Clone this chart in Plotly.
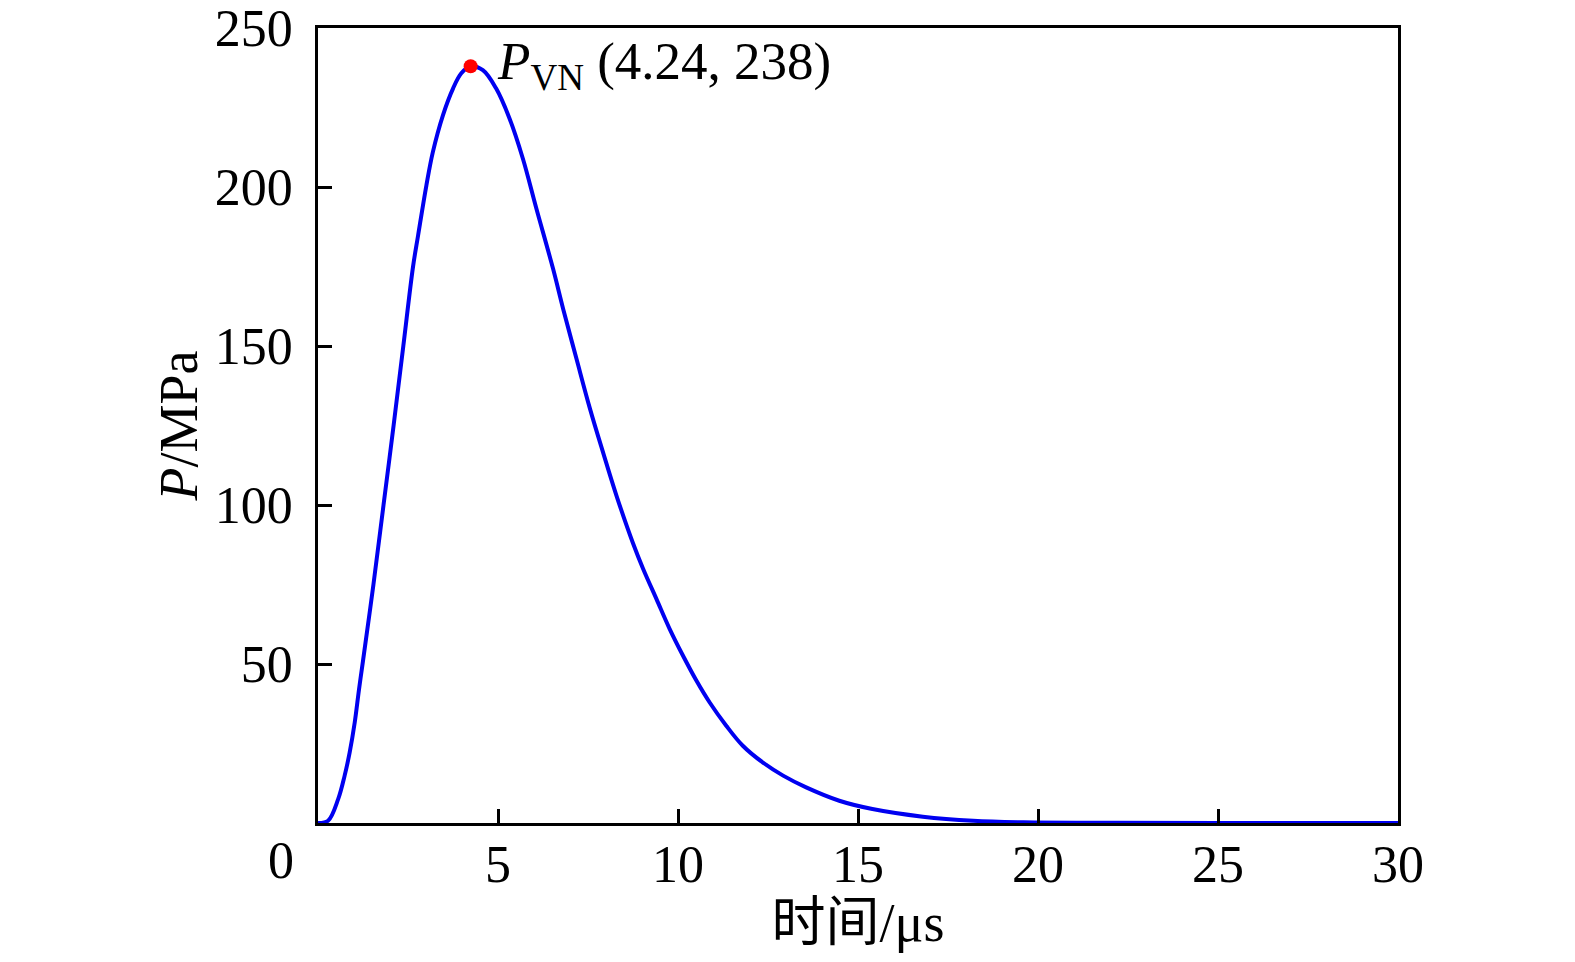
import plotly.graph_objects as go

# Time (μs) and pressure (MPa)
time_us = [0, 0.28, 0.56, 0.74, 0.88, 1.02, 1.14, 1.25, 1.54, 1.82, 2.10, 2.37, 2.64,
           2.78, 3.01, 3.19, 3.47, 3.75, 3.98, 4.24, 4.58, 4.95, 5.32, 5.69, 6.06, 6.53,
           6.81, 7.18, 7.55, 7.92, 8.29, 8.75, 9.03, 9.4, 9.77, 10.14, 10.51, 10.88,
           11.34, 11.8, 12.36, 12.92, 13.56, 14.48, 15.4, 16.8, 18.2, 19.6, 22, 25, 30]
pressure_mpa = [0, 0.7, 7.5, 14.9, 22.2, 31.6, 42.1, 51, 75, 100, 125, 150, 175,
                184.8, 200.5, 211, 222.6, 231, 235.8, 238, 236.8, 231, 221.6, 209, 193.5, 174.3,
                161.7, 146, 130.5, 116.5, 103, 88, 80, 70.5, 61, 52.6, 44.8, 37.9,
                30.6, 24.3, 19, 14.9, 11.2, 7.0, 4.4, 2.0, 0.7, 0.2, 0.05, 0.02, 0.0]

peak_t = [4.24]
peak_p = [238]
peak_label = "<i>P</i><sub>VN</sub> (4.24, 238)"

x_ticks = [5, 10, 15, 20, 25, 30]
y_ticks = [50, 100, 150, 200, 250]

FONT = "Liberation Serif, Times New Roman, Noto Sans CJK SC, serif"
TICK_FONT = dict(family=FONT, size=52, color="black")
TITLE_FONT = dict(family=FONT, size=54, color="black")

fig = go.Figure()
fig.add_trace(go.Scatter(x=time_us, y=pressure_mpa, mode="lines",
                         line=dict(color="#0000F0", width=4, shape="spline", smoothing=1.0),
                         showlegend=False))
fig.add_trace(go.Scatter(x=peak_t, y=peak_p, mode="markers",
                         marker=dict(color="#FF0000", size=14), showlegend=False))

fig.add_annotation(x=peak_t[0], y=peak_p[0], text=peak_label, showarrow=False,
                   xanchor="left", yanchor="middle", xshift=24, yshift=1,
                   font=dict(family=FONT, size=53, color="black"))
fig.add_annotation(xref="paper", yref="paper", x=-0.034, y=-0.047, text="0",
                   showarrow=False, xanchor="center", yanchor="middle",
                   font=TICK_FONT)

fig.update_xaxes(range=[0, 30], tickvals=x_ticks, ticks="inside", ticklen=14,
                 tickwidth=2.5, tickcolor="black", showline=True, linecolor="black",
                 linewidth=2.5, mirror=True, showgrid=False, zeroline=False,
                 tickfont=TICK_FONT, ticklabelstandoff=-6, ticklabeloverflow="allow",
                 title=dict(text="时间/μs", font=TITLE_FONT, standoff=8))
fig.update_yaxes(range=[0, 250.05], tickvals=y_ticks, ticks="inside", ticklen=14,
                 tickwidth=2.5, tickcolor="black", showline=True, linecolor="black",
                 linewidth=2.5, mirror=True, showgrid=False, zeroline=False,
                 tickfont=TICK_FONT, ticklabelstandoff=12, ticklabeloverflow="allow",
                 title=dict(text="<i>P</i>/MPa", font=TITLE_FONT, standoff=0))

fig.update_layout(width=1575, height=962, plot_bgcolor="white", paper_bgcolor="white",
                  margin=dict(l=310, r=185, t=20, b=147, autoexpand=False))

fig.write_html("out.html")
